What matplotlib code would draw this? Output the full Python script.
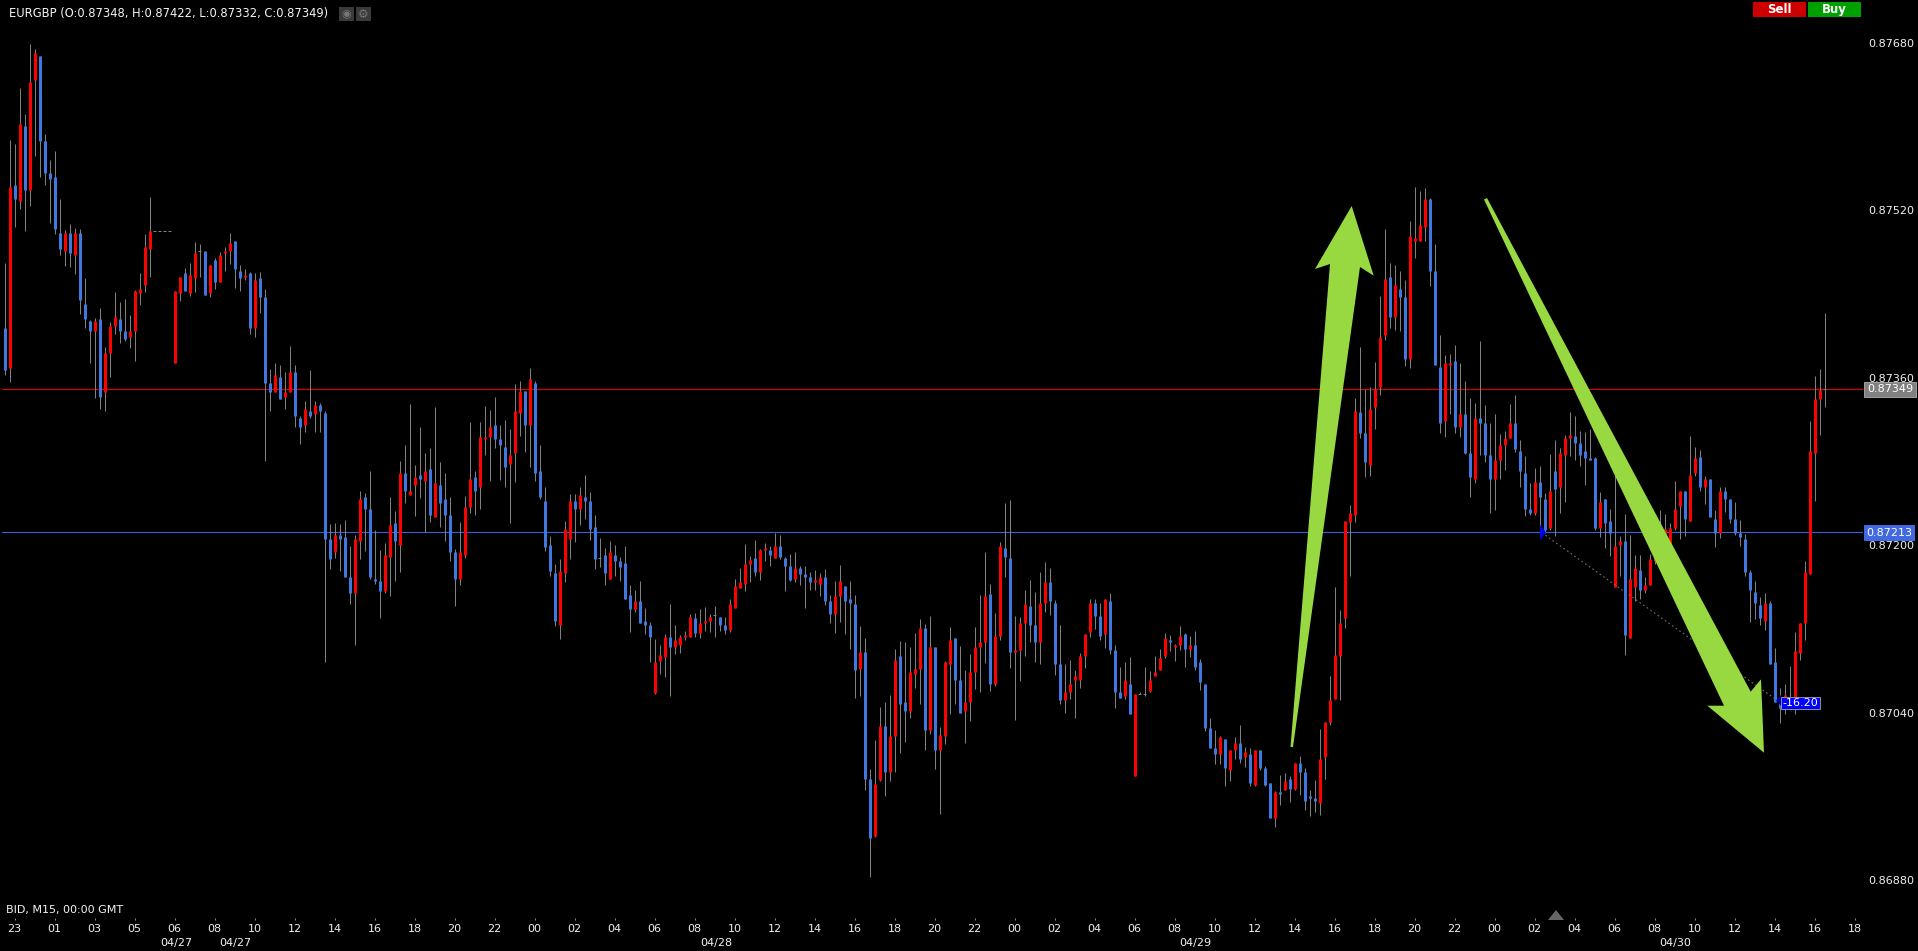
import numpy as np
import matplotlib
matplotlib.use("Agg")
import matplotlib.pyplot as plt
from matplotlib.patches import Rectangle, Polygon
from matplotlib.lines import Line2D

plt.rcParams['font.family'] = ['DejaVu Sans']

# Prices in units of 0.00001
highs = [
87470,87587,87583,87637,87612,87679,87674,87667,87593,87568,
87577,87531,87501,87507,87503,87502,87455,87415,87417,87427,
87389,87413,87442,87432,87435,87420,87444,87460,87497,87533,
87500,87500,87500,87500,87443,87456,87465,87470,87490,87488,
87481,87468,87474,87480,87485,87498,87491,87468,87464,87461,
87460,87461,87445,87368,87374,87372,87365,87390,87372,87323,
87338,87367,87338,87336,87328,87220,87221,87220,87224,87199,
87210,87252,87250,87271,87214,87195,87202,87246,87233,87280,
87296,87335,87277,87313,87288,87293,87332,87279,87269,87246,
87196,87222,87247,87318,87271,87318,87333,87329,87342,87315,
87320,87311,87354,87357,87347,87369,87357,87296,87256,87209,
87182,87187,87223,87249,87249,87256,87267,87251,87229,87207,
87197,87204,87200,87189,87199,87162,87157,87166,87140,87127,
87110,87105,87115,87144,87124,87114,87118,87134,87135,87139,
87141,87134,87142,87131,87131,87149,87168,87178,87201,87190,
87205,87196,87202,87199,87212,87210,87189,87192,87193,87180,
87180,87174,87176,87173,87177,87152,87166,87181,87161,87166,
87152,87123,87111,86986,87014,87045,87050,87057,87101,87108,
87107,87103,87116,87129,87125,87132,87103,87026,87089,87122,
87111,87104,87081,87096,87122,87152,87193,87163,87135,87203,
87240,87243,87132,87131,87157,87167,87155,87174,87184,87178,
87148,87124,87086,87090,87081,87097,87115,87149,87149,87145,
87149,87154,87105,87084,87088,87093,87058,87060,87084,87080,
87094,87101,87116,87114,87106,87123,87116,87113,87118,87091,
87067,87035,87023,87018,87015,87004,87017,87028,87007,87006,
87004,87004,86989,86973,86965,86980,86982,86979,86992,86999,
86987,86966,86976,87024,87031,87075,87160,87138,87223,87238,
87341,87389,87349,87351,87375,87438,87502,87470,87468,87462,
87453,87510,87542,87538,87541,87532,87488,87401,87382,87383,
87391,87374,87357,87341,87336,87395,87334,87317,87325,87306,
87309,87335,87343,87300,87285,87259,87274,87276,87250,87287,
87300,87293,87305,87327,87323,87309,87308,87311,87284,87251,
87244,87235,87268,87209,87230,87210,87191,87191,87170,87192,
87214,87234,87230,87221,87261,87252,87252,87304,87294,87291,
87266,87263,87234,87256,87256,87244,87241,87224,87211,87176,
87166,87150,87154,87147,87102,87064,87067,87085,87117,87126,
87185,87319,87362,87368,87422]

body_tops = [
87407,87542,87544,87602,87600,87642,87670,87667,87586,87556,
87552,87498,87498,87498,87498,87498,87430,87414,87414,87416,
87384,87409,87418,87416,87405,87405,87443,87445,87485,87500,
87500,87500,87500,87500,87443,87456,87460,87458,87479,87481,
87481,87468,87472,87477,87481,87489,87491,87462,87458,87460,
87453,87455,87437,87355,87363,87361,87346,87365,87365,87321,
87330,87328,87334,87334,87326,87206,87210,87210,87208,87170,
87206,87244,87246,87235,87168,87166,87191,87219,87221,87269,
87269,87252,87265,87267,87271,87273,87259,87257,87244,87229,
87193,87193,87236,87263,87265,87303,87303,87313,87315,87301,
87294,87286,87328,87347,87347,87359,87355,87271,87242,87200,
87173,87175,87215,87242,87242,87248,87246,87242,87217,87188,
87191,87193,87191,87185,87183,87152,87147,87147,87128,87124,
87088,87095,87112,87112,87109,87112,87114,87131,87130,87126,
87128,87131,87133,87131,87124,87144,87161,87165,87182,87186,
87188,87195,87197,87195,87199,87199,87188,87180,87178,87178,
87172,87170,87167,87170,87170,87147,87151,87166,87161,87149,
87144,87098,87098,86977,86972,87027,87027,87018,87090,87094,
87050,87079,87082,87121,87121,87103,87103,87019,87088,87109,
87111,87071,87050,87079,87103,87107,87151,87153,87113,87199,
87197,87188,87100,87126,87144,87142,87124,87145,87165,87165,
87145,87086,87060,87067,87075,87094,87115,87145,87145,87132,
87149,87147,87100,87060,87071,87067,87058,87058,87058,87071,
87079,87092,87111,87109,87105,87113,87115,87105,87105,87088,
87067,87025,87006,87017,87015,87004,87011,87011,87002,87000,
87004,87004,86987,86973,86964,86964,86975,86977,86992,86992,
86983,86960,86958,86996,87031,87052,87095,87126,87223,87231,
87328,87327,87307,87330,87349,87399,87454,87456,87449,87445,
87437,87495,87493,87506,87531,87531,87462,87370,87374,87374,
87376,87325,87325,87288,87321,87321,87317,87286,87281,87296,
87302,87317,87317,87290,87269,87235,87260,87260,87244,87252,
87271,87288,87302,87305,87304,87298,87290,87283,87283,87241,
87244,87223,87199,87204,87204,87168,87178,87176,87162,87187,
87201,87214,87215,87216,87235,87252,87252,87267,87283,87284,
87263,87263,87225,87252,87252,87244,87225,87212,87206,87174,
87155,87143,87145,87145,87088,87050,87057,87054,87099,87126,
87174,87290,87340,87348,87349]

body_bottoms = [
87367,87369,87531,87529,87539,87539,87644,87586,87556,87550,
87502,87483,87481,87479,87477,87434,87416,87405,87405,87342,
87346,87384,87409,87405,87397,87399,87405,87441,87449,87483,
87500,87500,87500,87500,87374,87441,87443,87441,87455,87481,
87439,87441,87451,87451,87479,87481,87464,87455,87456,87407,
87407,87437,87355,87346,87346,87340,87342,87346,87323,87313,
87315,87323,87325,87328,87206,87187,87193,87206,87170,87154,
87154,87204,87235,87170,87166,87156,87156,87189,87204,87200,
87252,87248,87257,87263,87261,87229,87227,87240,87229,87193,
87168,87168,87191,87236,87252,87256,87301,87303,87301,87296,
87275,87278,87288,87326,87315,87315,87269,87246,87198,87175,
87128,87124,87173,87206,87235,87235,87242,87215,87187,87188,
87173,87168,87185,87179,87149,87139,87139,87126,87124,87112,
87059,87089,87093,87103,87103,87105,87112,87112,87116,87116,
87126,87128,87133,87124,87119,87119,87140,87159,87163,87182,
87174,87174,87195,87191,87188,87189,87180,87167,87168,87172,
87170,87165,87165,87163,87147,87134,87134,87151,87147,87145,
87081,87082,86977,86920,86922,86976,86983,86983,87018,87048,
87042,87042,87077,87082,87023,87023,87004,87004,87018,87086,
87071,87040,87042,87050,87079,87103,87107,87067,87067,87113,
87189,87098,87098,87100,87126,87124,87107,87107,87145,87147,
87086,87052,87052,87060,87071,87071,87094,87117,87132,87113,
87115,87100,87060,87054,87056,87039,86979,87058,87058,87061,
87075,87081,87094,87107,87103,87105,87101,87101,87084,87069,
87025,87006,87000,87000,86987,86985,87004,86996,86998,86973,
86971,86987,86971,86939,86939,86962,86966,86967,86967,86983,
86956,86958,86956,86954,86998,87031,87053,87094,87130,87222,
87229,87307,87279,87277,87332,87351,87401,87418,87418,87437,
87378,87378,87491,87491,87504,87462,87372,87317,87319,87372,
87313,87313,87288,87265,87263,87317,87286,87263,87263,87281,
87296,87302,87292,87271,87235,87231,87231,87246,87214,87216,
87254,87256,87286,87302,87298,87286,87283,87281,87216,87216,
87221,87212,87160,87200,87114,87111,87160,87157,87157,87162,
87185,87200,87200,87198,87216,87237,87225,87223,87269,87256,
87256,87227,87212,87212,87244,87225,87212,87208,87174,87157,
87145,87130,87128,87086,87050,87044,87054,87050,87055,87097,
87126,87172,87288,87340,87348]

lows = [
87363,87356,87504,87521,87500,87524,87572,87552,87544,87508,
87497,87477,87467,87466,87459,87421,87407,87374,87341,87330,
87328,87361,87402,87393,87395,87388,87376,87429,87442,87456,
87500,87500,87500,87500,87374,87433,87443,87438,87442,87456,
87439,87437,87445,87451,87462,87469,87446,87443,87453,87402,
87399,87422,87280,87328,87346,87340,87330,87346,87313,87297,
87308,87321,87308,87308,87088,87177,87188,87175,87170,87144,
87105,87187,87194,87168,87163,87130,87154,87151,87166,87174,
87240,87248,87228,87245,87213,87222,87227,87217,87204,87185,
87142,87162,87188,87231,87229,87235,87286,87261,87293,87262,
87256,87221,87260,87304,87289,87275,87261,87244,87194,87171,
87123,87110,87165,87187,87203,87219,87225,87205,87177,87179,
87162,87168,87171,87166,87149,87117,87136,87126,87115,87088,
87058,87077,87074,87056,87096,87097,87109,87112,87112,87111,
87118,87117,87112,87118,87115,87117,87140,87159,87156,87165,
87171,87167,87185,87180,87188,87187,87156,87166,87165,87162,
87140,87157,87157,87151,87143,87126,87116,87127,87115,87101,
87054,87056,86966,86883,86921,86975,86960,86975,86983,87001,
87012,87035,87064,87048,87004,87020,86986,86943,87010,87039,
87048,87040,87011,87032,87063,87060,87087,87061,87065,87109,
87170,87083,87033,87070,87094,87107,87088,87086,87136,87133,
87076,87048,87040,87053,87035,87064,87083,87112,87120,87109,
87102,87096,87044,87054,87053,87039,86979,87058,87056,87060,
87075,87081,87092,87099,87089,87100,87084,87093,87081,87062,
87022,87006,86991,86991,86970,86975,86996,86992,86988,86970,
86970,86985,86970,86939,86931,86952,86966,86955,86966,86961,
86947,86941,86945,86942,86977,87028,87053,87052,87121,87171,
87222,87302,87265,87266,87311,87343,87396,87407,87406,87405,
87371,87369,87474,87491,87491,87448,87372,87307,87303,87325,
87307,87303,87287,87246,87259,87286,87279,87231,87234,87263,
87272,87302,87289,87256,87228,87229,87229,87207,87212,87214,
87209,87231,87241,87285,87281,87276,87257,87281,87214,87208,
87197,87190,87160,87171,87095,87111,87147,87149,87154,87162,
87182,87190,87195,87190,87214,87206,87209,87223,87266,87252,
87239,87227,87198,87207,87232,87221,87210,87199,87171,87127,
87129,87124,87119,87086,87050,87030,87039,87045,87039,87090,
87109,87172,87242,87305,87332]

# r = rising candle, b = falling candle, d = flat (open equals close)
candle_kinds = (
"brbrbrrbbb" "bbrbrbbbrb" "rrrbbrrrrr" "ddddrrbrrd" "brbrrrbbrb" "rbbbrbrrbb" "rbrbbbrbbb"
"rrbbbbrrbr" "brrbrbrbbb" "brrrbrrrbb" "brrrbrbbbb" "brrrbrbbbd" "brbbbbrbbb" "rrrbrrrrbr"
"rrdbbrrrrr" "brrbrbbbrb" "bbrrbbrrbb" "brbbrrbrrb" "brrrbrbrrr" "bbrrrrrbrr" "bbrrrbbrrb"
"bbrrrrrrbb" "rbbbrbrddr" "rrrbrrbrbb" "bbbrbrrbrb" "rbbbrbrbrb" "bbbrrrrrrr" "rbbrrrrbrb"
"brrrrbbbrr" "brbbrbbbrr" "rrbbbbrbbr" "brrrbbbbbr" "bbrrbrrbrr" "rbrrrrbrrb" "rbbrbbbbbb"
"bbrbbbrbrr" "rrrrd")

hour_labels = ["23","01","03","05","06","08","10","12","14","16","18","20","22",
               "00","02","04","06","08","10","12","14","16","18","20","22",
               "00","02","04","06","08","10","12","14","16","18","20","22",
               "00","02","04","06","08","10","12","14","16","18"]
price_ticks = [0.87680, 0.87520, 0.87360, 0.87200, 0.87040, 0.86880]
date_labels = ["04/27", "04/27", "04/28", "04/29", "04/30"]
date_label_x = [176, 235, 716, 1195, 1675]
ask_level = 0.87349
bid_level = 0.87213

W, H = 1918, 951
fig = plt.figure(figsize=(W/100, H/100), dpi=100, facecolor="black")
AX_R, AX_B = 1863, 918
ax = fig.add_axes([0, 1-AX_B/H, AX_R/W, AX_B/H], facecolor="black")
for s in ax.spines.values():
    s.set_visible(False)

def fx(x): return x/W
def fy(y): return 1-y/H
def P(pts): return [(fx(x), fy(y)) for x, y in pts]

scale = 1e-5
n = len(highs)
idx = np.arange(n)
hi = np.array(highs)*scale
lo = np.array(lows)*scale
tp = np.array(body_tops)*scale
bt = np.array(body_bottoms)*scale
kinds = np.array(list(candle_kinds))

RED, BLUE, WICK = "#ff0000", "#3f78e0", "#808080"
ax.axhline(ask_level, xmin=2/AX_R, color="#e00000", lw=0.8, zorder=1)
ax.axhline(bid_level, xmin=2/AX_R, color="#3a62d8", lw=0.8, zorder=1)
ax.vlines(idx, lo, hi, color=WICK, lw=0.72, zorder=2)
for k, col in (("r", RED), ("b", BLUE)):
    m = kinds == k
    ax.vlines(idx[m], bt[m], tp[m], color=col, lw=2.16, capstyle="butt", zorder=3)
m = kinds == "d"
ax.hlines(tp[m], idx[m]-0.3, idx[m]+0.3, color=WICK, lw=0.72, zorder=3)

ax.set_xlim(-0.9, (AX_R-4.5)/5)
ax.set_ylim(0.868438, 0.877208)
ax.set_xticks(2+8*np.arange(len(hour_labels)))
ax.set_xticklabels(hour_labels)
ax.yaxis.tick_right()
ax.set_yticks(price_ticks)
ax.set_yticklabels([f"{v:.5f}" for v in price_ticks])
ax.tick_params(axis="x", colors="#f0f0f0", length=1.5, width=0.72, pad=2.5, labelsize=8, color="#888888")
ax.tick_params(axis="y", colors="#f0f0f0", length=0, pad=3.6, labelsize=8)

TXT = "#f4f4f4"
fig.text(fx(9), fy(14), "EURGBP (O:0.87348, H:0.87422, L:0.87332, C:0.87349)",
         color=TXT, fontsize=8.3, va="center", ha="left")
fig.text(fx(6), fy(910), "BID, M15, 00:00 GMT", color=TXT, fontsize=8, va="center", ha="left")
for lab, x in zip(date_labels, date_label_x):
    fig.text(fx(x), fy(943), lab, color=TXT, fontsize=8, va="center", ha="center")

# header icons
for x0 in (339, 356):
    fig.add_artist(Rectangle((fx(x0), fy(21)), 15/W, 14/H, transform=fig.transFigure,
                             facecolor="#3a3a3a", edgecolor="none"))
fig.text(fx(346.5), fy(14), "◉", color="#777777", fontsize=8, ha="center", va="center")
fig.text(fx(363.5), fy(14), "⚙", color="#777777", fontsize=8.5, ha="center", va="center")

# sell / buy buttons
for x0, x1, col, lab in ((1753, 1805.7, "#cc0000", "Sell"), (1808, 1861, "#00a000", "Buy")):
    fig.add_artist(Rectangle((fx(x0), fy(17)), (x1-x0)/W, 15/H, transform=fig.transFigure,
                             facecolor=col, edgecolor="none", zorder=4))
    fig.text(fx((x0+x1)/2), fy(9.5), lab, color="white", fontsize=8.5, fontweight="bold",
             ha="center", va="center", zorder=5)

# price flags
for y0, y1, x1, col, lab in ((382, 397, 1916, "#808080", "0.87349"), (525, 540, 1914, "#4169e1", "0.87213")):
    fig.add_artist(Rectangle((fx(1864), fy(y1)), (x1-1864)/W, (y1-y0)/H, transform=fig.transFigure,
                             facecolor=col, edgecolor="#a0a0a0" if col == "#808080" else col, lw=0.7, zorder=4))
    fig.text(fx((1864+x1)/2), fy((y0+y1)/2), lab, color="white", fontsize=8, ha="center", va="center", zorder=5)

# measure line
fig.add_artist(Line2D([fx(1541.7), fx(1776.7)], [fy(532.7), fy(700)], transform=fig.transFigure,
                      color="#707070", lw=0.8, ls=(0, (1.5, 2.5)), zorder=2))
fig.add_artist(Polygon(P([(1540, 525), (1546, 532.5), (1540, 540)]), transform=fig.transFigure,
                       facecolor="#0000ff", edgecolor="none", zorder=3))
fig.add_artist(Polygon(P([(1776, 700.5), (1781, 695), (1781, 706)]), transform=fig.transFigure,
                       facecolor="#0000a0", edgecolor="none", zorder=3))
fig.add_artist(Rectangle((fx(1781), fy(709.3)), 39/W, 12.6/H, transform=fig.transFigure,
                         facecolor="#0000ff", edgecolor="#909090", lw=0.7, zorder=4))
fig.text(fx(1800.5), fy(703), "-16.20", color="white", fontsize=8, ha="center", va="center", zorder=5)

# hand-drawn green arrows
GREEN = "#98d942"
up_arrow = [(1290.5, 747), (1293, 747), (1360, 267), (1373.7, 275.7), (1351.7, 206), (1315, 269), (1330, 264)]
down_arrow = [(1484, 199.5), (1487, 198), (1750.7, 691.7), (1761, 679.3), (1764, 752.7), (1707.3, 705.7), (1724, 705.7)]
for pts in (up_arrow, down_arrow):
    fig.add_artist(Polygon(P(pts), closed=True, transform=fig.transFigure,
                           facecolor=GREEN, edgecolor="none", zorder=3))

# scroll marker
fig.add_artist(Polygon(P([(1548, 920), (1564, 920), (1556, 910)]), transform=fig.transFigure,
                       facecolor="#666666", edgecolor="none", zorder=3))

fig.savefig("out.png", dpi=100, facecolor="black")
